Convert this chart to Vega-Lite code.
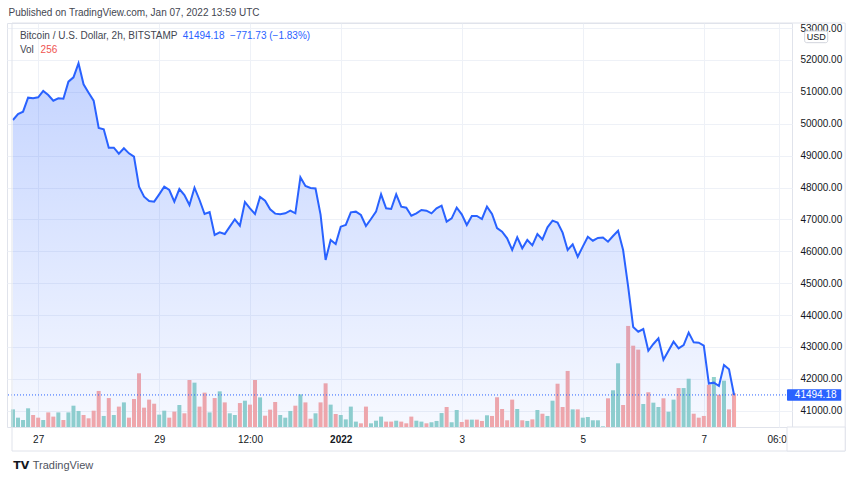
{
"$schema": "https://vega.github.io/schema/vega-lite/v6.json",
"width": 785, "height": 404,
"autosize": {"type": "none"},
"padding": {"left": 7, "top": 23, "right": 68, "bottom": 54},
"background": "#ffffff",
"config": {"view": {"stroke": "#e0e3eb"}, "font": "Liberation Sans"},
"title": {"text": "Published on TradingView.com, Jan 07, 2022 13:59 UTC", "anchor": "start", "fontSize": 10, "fontWeight": "normal", "color": "#434651", "offset": 5, "font": "Liberation Sans", "dx": 2},
"datasets": {"btc": [
{"t":"2021-12-26T14:00:00Z","p":50118,"v":134,"d":"up"},
{"t":"2021-12-26T16:00:00Z","p":50306,"v":71,"d":"up"},
{"t":"2021-12-26T18:00:00Z","p":50378,"v":53,"d":"up"},
{"t":"2021-12-26T20:00:00Z","p":50818,"v":142,"d":"up"},
{"t":"2021-12-26T22:00:00Z","p":50797,"v":91,"d":"down"},
{"t":"2021-12-27T00:00:00Z","p":50830,"v":71,"d":"down"},
{"t":"2021-12-27T02:00:00Z","p":51028,"v":53,"d":"up"},
{"t":"2021-12-27T04:00:00Z","p":50902,"v":111,"d":"down"},
{"t":"2021-12-27T06:00:00Z","p":50724,"v":79,"d":"down"},
{"t":"2021-12-27T08:00:00Z","p":50797,"v":111,"d":"up"},
{"t":"2021-12-27T10:00:00Z","p":50786,"v":53,"d":"down"},
{"t":"2021-12-27T12:00:00Z","p":51320,"v":111,"d":"up"},
{"t":"2021-12-27T14:00:00Z","p":51457,"v":162,"d":"up"},
{"t":"2021-12-27T16:00:00Z","p":51896,"v":122,"d":"up"},
{"t":"2021-12-27T18:00:00Z","p":51237,"v":91,"d":"down"},
{"t":"2021-12-27T20:00:00Z","p":50975,"v":66,"d":"down"},
{"t":"2021-12-27T22:00:00Z","p":50724,"v":124,"d":"down"},
{"t":"2021-12-28T00:00:00Z","p":49867,"v":274,"d":"down"},
{"t":"2021-12-28T02:00:00Z","p":49826,"v":84,"d":"up"},
{"t":"2021-12-28T04:00:00Z","p":49250,"v":220,"d":"down"},
{"t":"2021-12-28T06:00:00Z","p":49250,"v":91,"d":"up"},
{"t":"2021-12-28T08:00:00Z","p":49061,"v":155,"d":"down"},
{"t":"2021-12-28T10:00:00Z","p":49230,"v":187,"d":"up"},
{"t":"2021-12-28T12:00:00Z","p":49072,"v":71,"d":"down"},
{"t":"2021-12-28T14:00:00Z","p":48967,"v":213,"d":"down"},
{"t":"2021-12-28T16:00:00Z","p":48026,"v":408,"d":"down"},
{"t":"2021-12-28T18:00:00Z","p":47712,"v":147,"d":"down"},
{"t":"2021-12-28T20:00:00Z","p":47577,"v":208,"d":"down"},
{"t":"2021-12-28T22:00:00Z","p":47556,"v":177,"d":"down"},
{"t":"2021-12-29T00:00:00Z","p":47787,"v":94,"d":"up"},
{"t":"2021-12-29T02:00:00Z","p":48026,"v":124,"d":"up"},
{"t":"2021-12-29T04:00:00Z","p":47922,"v":71,"d":"down"},
{"t":"2021-12-29T06:00:00Z","p":47556,"v":117,"d":"down"},
{"t":"2021-12-29T08:00:00Z","p":47953,"v":167,"d":"up"},
{"t":"2021-12-29T10:00:00Z","p":47766,"v":104,"d":"down"},
{"t":"2021-12-29T12:00:00Z","p":47452,"v":357,"d":"down"},
{"t":"2021-12-29T14:00:00Z","p":47994,"v":337,"d":"up"},
{"t":"2021-12-29T16:00:00Z","p":47609,"v":155,"d":"down"},
{"t":"2021-12-29T18:00:00Z","p":47170,"v":261,"d":"down"},
{"t":"2021-12-29T20:00:00Z","p":47232,"v":111,"d":"up"},
{"t":"2021-12-29T22:00:00Z","p":46511,"v":220,"d":"down"},
{"t":"2021-12-30T00:00:00Z","p":46595,"v":271,"d":"up"},
{"t":"2021-12-30T02:00:00Z","p":46542,"v":187,"d":"down"},
{"t":"2021-12-30T04:00:00Z","p":46772,"v":104,"d":"up"},
{"t":"2021-12-30T06:00:00Z","p":47003,"v":91,"d":"up"},
{"t":"2021-12-30T08:00:00Z","p":46804,"v":182,"d":"down"},
{"t":"2021-12-30T10:00:00Z","p":47546,"v":200,"d":"up"},
{"t":"2021-12-30T12:00:00Z","p":47348,"v":170,"d":"down"},
{"t":"2021-12-30T14:00:00Z","p":47170,"v":357,"d":"down"},
{"t":"2021-12-30T16:00:00Z","p":47703,"v":225,"d":"up"},
{"t":"2021-12-30T18:00:00Z","p":47587,"v":86,"d":"down"},
{"t":"2021-12-30T20:00:00Z","p":47316,"v":132,"d":"down"},
{"t":"2021-12-30T22:00:00Z","p":47181,"v":190,"d":"down"},
{"t":"2021-12-31T00:00:00Z","p":47160,"v":91,"d":"up"},
{"t":"2021-12-31T02:00:00Z","p":47191,"v":71,"d":"up"},
{"t":"2021-12-31T04:00:00Z","p":47275,"v":122,"d":"up"},
{"t":"2021-12-31T06:00:00Z","p":47191,"v":162,"d":"down"},
{"t":"2021-12-31T08:00:00Z","p":48320,"v":248,"d":"up"},
{"t":"2021-12-31T10:00:00Z","p":48047,"v":187,"d":"down"},
{"t":"2021-12-31T12:00:00Z","p":47984,"v":63,"d":"down"},
{"t":"2021-12-31T14:00:00Z","p":47970,"v":104,"d":"up"},
{"t":"2021-12-31T16:00:00Z","p":47150,"v":187,"d":"down"},
{"t":"2021-12-31T18:00:00Z","p":45727,"v":332,"d":"down"},
{"t":"2021-12-31T20:00:00Z","p":46354,"v":170,"d":"up"},
{"t":"2021-12-31T22:00:00Z","p":46228,"v":99,"d":"down"},
{"t":"2022-01-01T00:00:00Z","p":46772,"v":91,"d":"up"},
{"t":"2022-01-01T02:00:00Z","p":46826,"v":58,"d":"up"},
{"t":"2022-01-01T04:00:00Z","p":47223,"v":155,"d":"up"},
{"t":"2022-01-01T06:00:00Z","p":47243,"v":41,"d":"up"},
{"t":"2022-01-01T08:00:00Z","p":47138,"v":28,"d":"down"},
{"t":"2022-01-01T10:00:00Z","p":46793,"v":155,"d":"down"},
{"t":"2022-01-01T12:00:00Z","p":47013,"v":28,"d":"up"},
{"t":"2022-01-01T14:00:00Z","p":47243,"v":48,"d":"up"},
{"t":"2022-01-01T16:00:00Z","p":47787,"v":79,"d":"up"},
{"t":"2022-01-01T18:00:00Z","p":47348,"v":41,"d":"down"},
{"t":"2022-01-01T20:00:00Z","p":47327,"v":41,"d":"down"},
{"t":"2022-01-01T22:00:00Z","p":47787,"v":48,"d":"up"},
{"t":"2022-01-02T00:00:00Z","p":47400,"v":41,"d":"down"},
{"t":"2022-01-02T02:00:00Z","p":47368,"v":28,"d":"down"},
{"t":"2022-01-02T04:00:00Z","p":47117,"v":79,"d":"down"},
{"t":"2022-01-02T06:00:00Z","p":47190,"v":48,"d":"up"},
{"t":"2022-01-02T08:00:00Z","p":47295,"v":41,"d":"up"},
{"t":"2022-01-02T10:00:00Z","p":47275,"v":28,"d":"down"},
{"t":"2022-01-02T12:00:00Z","p":47190,"v":36,"d":"up"},
{"t":"2022-01-02T14:00:00Z","p":47348,"v":46,"d":"up"},
{"t":"2022-01-02T16:00:00Z","p":47431,"v":106,"d":"up"},
{"t":"2022-01-02T18:00:00Z","p":46930,"v":152,"d":"down"},
{"t":"2022-01-02T20:00:00Z","p":47034,"v":36,"d":"up"},
{"t":"2022-01-02T22:00:00Z","p":47368,"v":129,"d":"up"},
{"t":"2022-01-03T00:00:00Z","p":47160,"v":38,"d":"down"},
{"t":"2022-01-03T02:00:00Z","p":46826,"v":56,"d":"down"},
{"t":"2022-01-03T04:00:00Z","p":47107,"v":56,"d":"up"},
{"t":"2022-01-03T06:00:00Z","p":47107,"v":56,"d":"down"},
{"t":"2022-01-03T08:00:00Z","p":47013,"v":46,"d":"down"},
{"t":"2022-01-03T10:00:00Z","p":47400,"v":89,"d":"up"},
{"t":"2022-01-03T12:00:00Z","p":47170,"v":84,"d":"down"},
{"t":"2022-01-03T14:00:00Z","p":46730,"v":226,"d":"down"},
{"t":"2022-01-03T16:00:00Z","p":46616,"v":137,"d":"down"},
{"t":"2022-01-03T18:00:00Z","p":46406,"v":51,"d":"down"},
{"t":"2022-01-03T20:00:00Z","p":46040,"v":208,"d":"down"},
{"t":"2022-01-03T22:00:00Z","p":46438,"v":137,"d":"up"},
{"t":"2022-01-04T00:00:00Z","p":46094,"v":51,"d":"down"},
{"t":"2022-01-04T02:00:00Z","p":46354,"v":46,"d":"up"},
{"t":"2022-01-04T04:00:00Z","p":46187,"v":58,"d":"down"},
{"t":"2022-01-04T06:00:00Z","p":46542,"v":129,"d":"up"},
{"t":"2022-01-04T08:00:00Z","p":46375,"v":101,"d":"down"},
{"t":"2022-01-04T10:00:00Z","p":46752,"v":84,"d":"up"},
{"t":"2022-01-04T12:00:00Z","p":46961,"v":200,"d":"up"},
{"t":"2022-01-04T14:00:00Z","p":46898,"v":329,"d":"down"},
{"t":"2022-01-04T16:00:00Z","p":46584,"v":152,"d":"down"},
{"t":"2022-01-04T18:00:00Z","p":46040,"v":426,"d":"down"},
{"t":"2022-01-04T20:00:00Z","p":46218,"v":134,"d":"up"},
{"t":"2022-01-04T22:00:00Z","p":45830,"v":134,"d":"down"},
{"t":"2022-01-05T00:00:00Z","p":46145,"v":71,"d":"up"},
{"t":"2022-01-05T02:00:00Z","p":46458,"v":76,"d":"up"},
{"t":"2022-01-05T04:00:00Z","p":46332,"v":51,"d":"up"},
{"t":"2022-01-05T06:00:00Z","p":46420,"v":51,"d":"up"},
{"t":"2022-01-05T08:00:00Z","p":46430,"v":5,"d":"up"},
{"t":"2022-01-05T10:00:00Z","p":46301,"v":218,"d":"down"},
{"t":"2022-01-05T12:00:00Z","p":46479,"v":279,"d":"up"},
{"t":"2022-01-05T14:00:00Z","p":46646,"v":484,"d":"up"},
{"t":"2022-01-05T16:00:00Z","p":46040,"v":167,"d":"down"},
{"t":"2022-01-05T18:00:00Z","p":44890,"v":768,"d":"down"},
{"t":"2022-01-05T20:00:00Z","p":43625,"v":618,"d":"down"},
{"t":"2022-01-05T22:00:00Z","p":43478,"v":588,"d":"down"},
{"t":"2022-01-06T00:00:00Z","p":43562,"v":175,"d":"up"},
{"t":"2022-01-06T02:00:00Z","p":42881,"v":264,"d":"down"},
{"t":"2022-01-06T04:00:00Z","p":43092,"v":185,"d":"up"},
{"t":"2022-01-06T06:00:00Z","p":43270,"v":152,"d":"up"},
{"t":"2022-01-06T08:00:00Z","p":42600,"v":218,"d":"down"},
{"t":"2022-01-06T10:00:00Z","p":42881,"v":116,"d":"up"},
{"t":"2022-01-06T12:00:00Z","p":43165,"v":208,"d":"up"},
{"t":"2022-01-06T14:00:00Z","p":42955,"v":296,"d":"down"},
{"t":"2022-01-06T16:00:00Z","p":43060,"v":296,"d":"up"},
{"t":"2022-01-06T18:00:00Z","p":43450,"v":367,"d":"up"},
{"t":"2022-01-06T20:00:00Z","p":43144,"v":101,"d":"down"},
{"t":"2022-01-06T22:00:00Z","p":43134,"v":71,"d":"down"},
{"t":"2022-01-07T00:00:00Z","p":43040,"v":84,"d":"down"},
{"t":"2022-01-07T02:00:00Z","p":41850,"v":321,"d":"down"},
{"t":"2022-01-07T04:00:00Z","p":41880,"v":380,"d":"up"},
{"t":"2022-01-07T06:00:00Z","p":41776,"v":245,"d":"down"},
{"t":"2022-01-07T08:00:00Z","p":42433,"v":352,"d":"up"},
{"t":"2022-01-07T10:00:00Z","p":42297,"v":134,"d":"down"},
{"t":"2022-01-07T12:00:00Z","p":41494.18,"v":256,"d":"down"}
],
"one": [{}]},
"layer": [
{
"data": {"name": "btc"},
"mark": {"type": "bar", "size": 4, "clip": true},
"encoding": {
"x": {"field": "t", "type": "temporal",
"scale": {"nice": false, "domain": [{"year": 2021, "month": 12, "date": 26, "hours": 13, "minutes": 37, "utc": true}, {"year": 2022, "month": 1, "date": 8, "hours": 9, "utc": true}]},
"axis": {"title": null, "values": [
{"year": 2021, "month": 12, "date": 27, "utc": true},
{"year": 2021, "month": 12, "date": 29, "utc": true},
{"year": 2021, "month": 12, "date": 30, "hours": 12, "utc": true},
{"year": 2022, "month": 1, "date": 1, "utc": true},
{"year": 2022, "month": 1, "date": 3, "utc": true},
{"year": 2022, "month": 1, "date": 5, "utc": true},
{"year": 2022, "month": 1, "date": 7, "utc": true},
{"year": 2022, "month": 1, "date": 8, "hours": 6, "utc": true}],
"labelExpr": "utcFormat(datum.value, '%H') != '00' ? utcFormat(datum.value, '%H:%M') : (utcFormat(datum.value, '%m-%d') == '01-01' ? utcFormat(datum.value, '%Y') : utcFormat(datum.value, '%-d'))",
"labelFontWeight": {"condition": {"test": "utcFormat(datum.value, '%m-%d %H') == '01-01 00'", "value": "bold"}, "value": "normal"},
"grid": true, "gridColor": "#eef1f7", "ticks": false, "domain": false,
"labelPadding": 7, "labelFontSize": 10, "labelColor": "#131722", "labelFont": "Liberation Sans",
"labelFlush": false, "labelOverlap": false, "labelBound": false}},
"y": {"field": "v", "type": "quantitative", "scale": {"domain": [0, 3070], "nice": false, "zero": true}, "axis": null},
"color": {"field": "d", "type": "nominal", "scale": {"domain": ["up", "down"], "range": ["#92d2cc", "#f7a9a8"]}, "legend": null}
}
},
{
"resolve": {"axis": {"y": "independent"}},
"layer": [
{
"data": {"name": "btc"},
"mark": {"type": "area", "color": {"gradient": "linear", "x1": 0, "y1": 0, "x2": 0, "y2": 1, "stops": [{"offset": 0, "color": "rgba(41,98,255,0.28)"}, {"offset": 1, "color": "rgba(41,98,255,0.04)"}]}},
"encoding": {
"x": {"field": "t", "type": "temporal"},
"y": {"field": "p", "type": "quantitative",
"scale": {"domain": [40489, 53160], "nice": false, "zero": false},
"axis": {"orient": "right", "title": null, "values": [41000, 42000, 43000, 44000, 45000, 46000, 47000, 48000, 49000, 50000, 51000, 52000, 53000], "format": ".2f",
"grid": true, "gridColor": "#eef1f7", "ticks": false, "domain": false, "labelPadding": 8, "labelFontSize": 10, "labelColor": "#131722", "labelFont": "Liberation Sans", "labelOverlap": false, "labelBound": false, "labelFlush": false}},
"y2": {"datum": 40489}
}
},
{
"data": {"name": "btc"},
"mark": {"type": "line", "color": "#2962ff", "strokeWidth": 2},
"encoding": {
"x": {"field": "t", "type": "temporal"},
"y": {"field": "p", "type": "quantitative", "axis": null}
}
},
{
"data": {"name": "one"},
"mark": {"type": "rule", "color": "#2962ff", "strokeDash": [1, 2], "strokeWidth": 1},
"encoding": {"y": {"datum": 41494.18, "type": "quantitative", "axis": null}}
},
{
"data": {"name": "one"},
"mark": {"type": "rect", "fill": "#ffffff", "fillOpacity": 0, "stroke": "#e0e3eb", "strokeWidth": 1},
"encoding": {
"x": {"datum": {"year": 2021, "month": 12, "date": 26, "hours": 13, "minutes": 37, "utc": true}, "type": "temporal"},
"x2": {"datum": {"year": 2022, "month": 1, "date": 9, "hours": 8, "minutes": 5, "utc": true}},
"y": {"datum": 39736, "type": "quantitative", "axis": null},
"y2": {"datum": 53160}
}
},
{
"data": {"name": "one"},
"mark": {"type": "rect", "fill": "#ffffff", "stroke": "#e0e3eb", "strokeWidth": 1},
"encoding": {
"x": {"datum": {"year": 2022, "month": 1, "date": 8, "hours": 9, "utc": true}, "type": "temporal"},
"x2": {"datum": {"year": 2022, "month": 1, "date": 9, "hours": 8, "minutes": 5, "utc": true}},
"y": {"datum": 39736, "type": "quantitative", "axis": null},
"y2": {"datum": 40489}
}
},
{
"data": {"name": "one"},
"mark": {"type": "rect", "fill": "#2962ff", "cornerRadius": 1},
"encoding": {
"x": {"datum": {"year": 2022, "month": 1, "date": 8, "hours": 9, "utc": true}, "type": "temporal"},
"x2": {"datum": {"year": 2022, "month": 1, "date": 9, "hours": 6, "minutes": 30, "utc": true}},
"y": {"datum": 41314, "type": "quantitative", "axis": null},
"y2": {"datum": 41671}
}
},
{
"data": {"name": "one"},
"mark": {"type": "text", "text": "41494.18", "color": "#ffffff", "fontSize": 10, "align": "left", "baseline": "middle", "font": "Liberation Sans"},
"encoding": {
"x": {"datum": {"year": 2022, "month": 1, "date": 8, "hours": 12, "minutes": 6, "utc": true}, "type": "temporal"},
"y": {"datum": 41494.18, "type": "quantitative", "axis": null}
}
},
{
"data": {"name": "one"},
"mark": {"type": "rect", "fill": "#ffffff", "stroke": "#d1d4dc", "strokeWidth": 1, "cornerRadius": 2},
"encoding": {
"x": {"datum": {"year": 2022, "month": 1, "date": 8, "hours": 16, "utc": true}, "type": "temporal"},
"x2": {"datum": {"year": 2022, "month": 1, "date": 9, "hours": 1, "minutes": 9, "utc": true}},
"y": {"datum": 52543, "type": "quantitative", "axis": null},
"y2": {"datum": 52910}
}
},
{
"data": {"name": "one"},
"mark": {"type": "text", "text": "USD", "color": "#131722", "fontSize": 9, "align": "center", "baseline": "middle", "font": "Liberation Sans"},
"encoding": {
"x": {"datum": {"year": 2022, "month": 1, "date": 8, "hours": 20, "minutes": 36, "utc": true}, "type": "temporal"},
"y": {"datum": 52728, "type": "quantitative", "axis": null}
}
},
{
"data": {"name": "one"},
"mark": {"type": "text", "text": "Bitcoin / U.S. Dollar, 2h, BITSTAMP", "color": "#434651", "fontSize": 10, "align": "left", "baseline": "middle", "font": "Liberation Sans"},
"encoding": {
"x": {"datum": {"year": 2021, "month": 12, "date": 26, "hours": 16, "minutes": 45, "utc": true}, "type": "temporal"},
"y": {"datum": 52753, "type": "quantitative", "axis": null}
}
},
{
"data": {"name": "one"},
"mark": {"type": "text", "text": "41494.18\u00a0 −771.73 (−1.83%)", "color": "#2962ff", "fontSize": 10, "align": "left", "baseline": "middle", "font": "Liberation Sans"},
"encoding": {
"x": {"datum": {"year": 2021, "month": 12, "date": 29, "hours": 9, "minutes": 21, "utc": true}, "type": "temporal"},
"y": {"datum": 52753, "type": "quantitative", "axis": null}
}
},
{
"data": {"name": "one"},
"mark": {"type": "text", "text": "Vol", "color": "#434651", "fontSize": 10, "align": "left", "baseline": "middle", "font": "Liberation Sans"},
"encoding": {
"x": {"datum": {"year": 2021, "month": 12, "date": 26, "hours": 16, "minutes": 45, "utc": true}, "type": "temporal"},
"y": {"datum": 52314, "type": "quantitative", "axis": null}
}
},
{
"data": {"name": "one"},
"mark": {"type": "text", "text": "256", "color": "#ef5350", "fontSize": 10, "align": "left", "baseline": "middle", "font": "Liberation Sans"},
"encoding": {
"x": {"datum": {"year": 2021, "month": 12, "date": 27, "hours": 0, "minutes": 58, "utc": true}, "type": "temporal"},
"y": {"datum": 52314, "type": "quantitative", "axis": null}
}
},
{
"data": {"name": "one"},
"mark": {"type": "text", "text": "TV", "color": "#131722", "fontSize": 11, "fontWeight": "bold", "align": "center", "baseline": "middle", "font": "DejaVu Sans"},
"encoding": {
"x": {"datum": {"year": 2021, "month": 12, "date": 26, "hours": 17, "minutes": 20, "utc": true}, "type": "temporal"},
"y": {"datum": 39265, "type": "quantitative", "axis": null}
}
},
{
"data": {"name": "one"},
"mark": {"type": "text", "text": "TradingView", "color": "#50535e", "fontSize": 11, "align": "left", "baseline": "middle", "font": "Liberation Sans"},
"encoding": {
"x": {"datum": {"year": 2021, "month": 12, "date": 26, "hours": 21, "minutes": 50, "utc": true}, "type": "temporal"},
"y": {"datum": 39265, "type": "quantitative", "axis": null}
}
}
]
}
],
"resolve": {"scale": {"y": "independent"}}
}
